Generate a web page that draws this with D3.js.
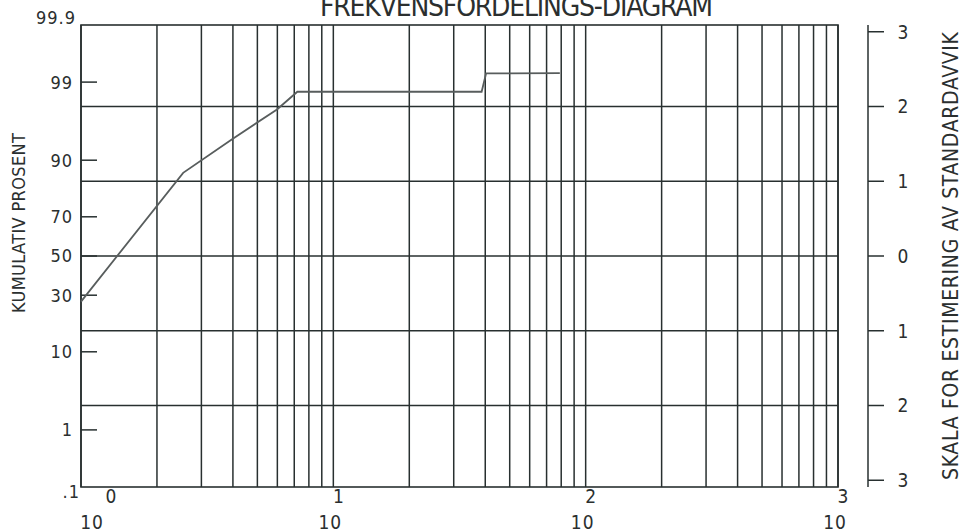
<!DOCTYPE html>
<html>
<head>
<meta charset="utf-8">
<script src="https://cdn.jsdelivr.net/npm/d3@7"></script>
<style>
body { margin: 0; background: #fff; }
svg { display: block; }
text { font-family: "DejaVu Sans Condensed", "DejaVu Sans", sans-serif; fill: #2b2f2f; }
</style>
</head>
<body>
<svg id="chart" width="960" height="531"></svg>
<script>
// Data
var sizes = [1, 2.54, 3.97, 5.98, 7.2, 38.7, 40.3, 79];
var cumPercent = [27.1, 86.7, 94.1, 97.5, 98.6, 98.6, 99.27, 99.28];

// Axis ticks
var percentTicks = [99.9, 99, 90, 70, 50, 30, 10, 1, 0.1];
var percentLabels = ["99.9", "99", "90", "70", "50", "30", "10", "1", ".1"];
var sdTicks = [3, 2, 1, 0, -1, -2, -3];
var sdGrid = [2, 1, 0, -1, -2];
var decades = [0, 1, 2, 3];

// inverse normal CDF (Acklam)
function probit(p) {
    var a = [-39.69683028665376, 220.9460984245205, -275.9285104469687, 138.3577518672690, -30.66479806614716, 2.506628277459239];
    var b = [-54.47609879822406, 161.5858368580409, -155.6989798598866, 66.80131188771972, -13.28068155288572];
    var c = [-0.007784894002430293, -0.3223964580411365, -2.400758277161838, -2.549732539343734, 4.374664141464968, 2.938163982698783];
    var d = [0.007784695709041462, 0.3224671290700398, 2.445134137142996, 3.754408661907416];
    var pl = 0.02425, q, r;
    if (p < pl) {
        q = Math.sqrt(-2 * Math.log(p));
        return (((((c[0]*q+c[1])*q+c[2])*q+c[3])*q+c[4])*q+c[5]) / ((((d[0]*q+d[1])*q+d[2])*q+d[3])*q+1);
    }
    if (p > 1 - pl) {
        q = Math.sqrt(-2 * Math.log(1 - p));
        return -(((((c[0]*q+c[1])*q+c[2])*q+c[3])*q+c[4])*q+c[5]) / ((((d[0]*q+d[1])*q+d[2])*q+d[3])*q+1);
    }
    q = p - 0.5; r = q * q;
    return (((((a[0]*r+a[1])*r+a[2])*r+a[3])*r+a[4])*r+a[5])*q / (((((b[0]*r+b[1])*r+b[2])*r+b[3])*r+b[4])*r+1);
}

var svg = d3.select("#chart");
var plotL = 81, plotR = 838, plotT = 25, plotB = 487;
var zMax = probit(0.999);

var x = d3.scaleLog().domain([1, 1000]).range([plotL, plotR]);
var z = d3.scaleLinear().domain([-zMax, zMax]).range([plotB, plotT]);
var yPct = function(p) { return z(probit(p / 100)); };

var ink = "#283030";

// vertical grid: 1..9 in each decade
var vLines = [];
decades.slice(0, 3).forEach(function(e) {
    d3.range(1, 10).forEach(function(k) { vLines.push(k * Math.pow(10, e)); });
});
vLines.push(1000);

svg.append("g").selectAll("line")
    .data(vLines)
    .enter().append("line")
    .attr("x1", d => x(d)).attr("x2", d => x(d))
    .attr("y1", plotT).attr("y2", plotB)
    .attr("stroke", ink).attr("stroke-width", 1.5);

// horizontal grid at whole standard deviations
svg.append("g").selectAll("line")
    .data(sdGrid)
    .enter().append("line")
    .attr("x1", plotL).attr("x2", plotR)
    .attr("y1", d => z(d)).attr("y2", d => z(d))
    .attr("stroke", ink).attr("stroke-width", 1.5);

// frame
svg.append("rect")
    .attr("x", plotL).attr("y", plotT)
    .attr("width", plotR - plotL).attr("height", plotB - plotT)
    .attr("fill", "none").attr("stroke", ink).attr("stroke-width", 1.6);

// left ticks (inside) and labels
svg.append("g").selectAll("line")
    .data(percentTicks.filter(d => d > 0.1 && d < 99.9))
    .enter().append("line")
    .attr("x1", plotL).attr("x2", plotL + 16)
    .attr("y1", d => yPct(d)).attr("y2", d => yPct(d))
    .attr("stroke", ink).attr("stroke-width", 1.5);

var last = percentTicks.length - 1;
svg.append("g").selectAll("text")
    .data(percentTicks)
    .enter().append("text")
    .attr("x", (d, i) => i === last ? 80 : (i === 0 ? 76 : 73))
    .attr("y", (d, i) => i === 0 ? plotT - 7 : (i === last ? plotB + 5 : yPct(d)))
    .attr("dy", "0.36em")
    .attr("text-anchor", "end")
    .style("font-size", "18px")
    .style("letter-spacing", "1px")
    .text((d, i) => percentLabels[i]);

// bottom labels: 10 with exponent above it
var xl = svg.append("g").selectAll("g")
    .data(decades)
    .enter().append("g")
    .attr("transform", (d, i) => "translate(" + (x(Math.pow(10, d)) + (i === 0 ? 14 : 0)) + ",0)");

xl.append("text")
    .attr("x", (d, i) => i === 0 ? 16 : 5)
    .attr("y", 503)
    .attr("text-anchor", "middle")
    .style("font-size", "19px")
    .text(d => d);

xl.append("text")
    .attr("x", -3)
    .attr("y", 529)
    .attr("text-anchor", "middle")
    .style("font-size", "19px")
    .style("letter-spacing", "1px")
    .text("10");

// right standard deviation scale
var ax = 868;
svg.append("line")
    .attr("x1", ax).attr("x2", ax)
    .attr("y1", plotT).attr("y2", plotB)
    .attr("stroke", ink).attr("stroke-width", 1.5);

svg.append("g").selectAll("line")
    .data(sdTicks)
    .enter().append("line")
    .attr("x1", ax).attr("x2", ax + 16)
    .attr("y1", d => z(d)).attr("y2", d => z(d))
    .attr("stroke", ink).attr("stroke-width", 1.5);

svg.append("g").selectAll("text")
    .data(sdTicks)
    .enter().append("text")
    .attr("x", 903)
    .attr("y", d => z(d))
    .attr("dy", "0.36em")
    .attr("text-anchor", "middle")
    .style("font-size", "19px")
    .text(d => Math.abs(d));

// data line
var line = d3.line()
    .x((d, i) => x(sizes[i]))
    .y(d => yPct(d));

svg.append("path")
    .datum(cumPercent)
    .attr("d", line)
    .attr("fill", "none")
    .attr("stroke", "#585d5d")
    .attr("stroke-width", 1.8);

// titles
svg.append("text")
    .attr("x", 320).attr("y", 16)
    .attr("textLength", 393).attr("lengthAdjust", "spacing")
    .style("font-size", "28px")
    .text("FREKVENSFORDELINGS-DIAGRAM");

svg.append("text")
    .attr("transform", "translate(25,223) rotate(-90)")
    .attr("x", -90).attr("y", 0)
    .attr("textLength", 180).attr("lengthAdjust", "spacing")
    .style("font-size", "18px")
    .text("KUMULATIV PROSENT");

svg.append("text")
    .attr("transform", "translate(958,256) rotate(-90)")
    .attr("x", -224).attr("y", 0)
    .attr("textLength", 448).attr("lengthAdjust", "spacing")
    .style("font-size", "21px")
    .text("SKALA FOR ESTIMERING AV STANDARDAVVIK");
</script>
</body>
</html>
